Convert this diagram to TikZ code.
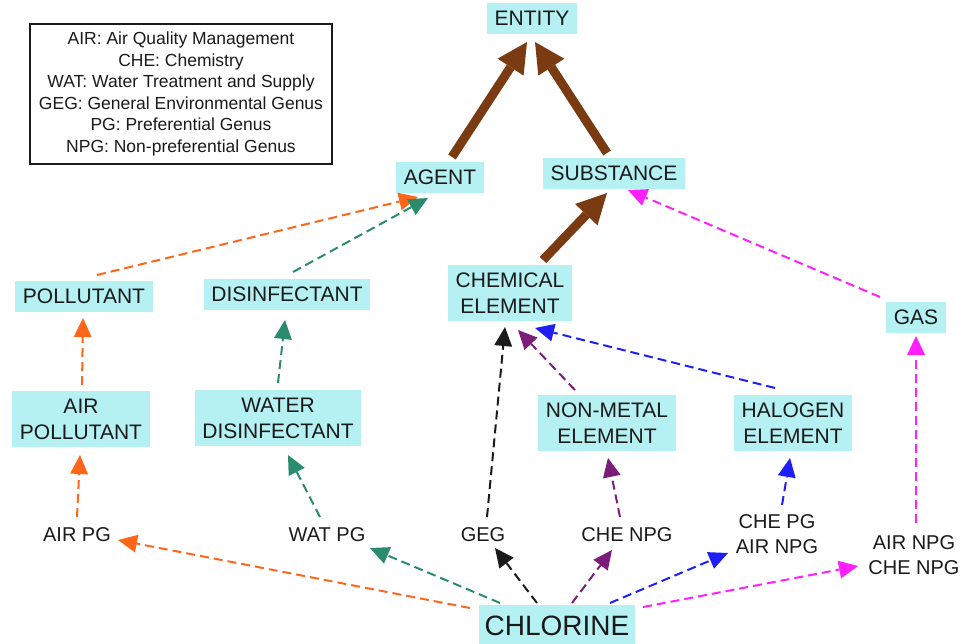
\documentclass[tikz,border=0pt]{standalone}
\usepackage{fontspec}
\setmainfont{Liberation Sans}
\usetikzlibrary{arrows.meta,calc}
\definecolor{boxfill}{HTML}{B5F0F2}
\definecolor{corange}{HTML}{FF661A}
\definecolor{cgreen}{HTML}{2A8C6C}
\definecolor{cpurple}{HTML}{7B1E7A}
\definecolor{cblue}{HTML}{1F1FF5}
\definecolor{cmagenta}{HTML}{FF1FFF}
\definecolor{cbrown}{HTML}{7A3B12}
\definecolor{ctext}{HTML}{1A1A1A}
\begin{document}
\begin{tikzpicture}[x=1pt,y=-1pt,
  onebox/.style={fill=boxfill, text=ctext, font=\fontsize{21}{26}\selectfont, inner xsep=7.5pt, inner ysep=8pt, text height=15pt, text depth=0pt},
  twobox/.style={fill=boxfill, text=ctext, font=\fontsize{21}{26}\selectfont, align=center, inner xsep=7.5pt, inner ysep=8pt},
  lbl/.style={text=ctext, font=\fontsize{20}{25}\selectfont, align=center, inner sep=2pt},
  legendbox/.style={draw=ctext, line width=1.2pt, text=ctext, font=\fontsize{17.5}{21.6}\selectfont, align=center, minimum width=302pt, minimum height=140pt, inner sep=0pt},
  dasharr/.style={line width=2pt, dash pattern=on 9pt off 5pt, -{Triangle[length=19pt,width=18pt,line width=0pt]}},
  thickarr/.style={line width=9pt, draw=cbrown, -{Triangle[length=30pt,width=31pt,line width=0pt]}},
]
\useasboundingbox (0,0) rectangle (965,643);

% legend
\node[legendbox] (legend) at (181,94) {AIR: Air Quality Management\\CHE: Chemistry\\WAT: Water Treatment and Supply\\GEG: General Environmental Genus\\PG: Preferential Genus\\NPG: Non-preferential Genus};

% boxed nodes
\node[onebox] (entity) at (532,18) {ENTITY};
\node[onebox] (agent) at (440,177) {AGENT};
\node[onebox] (substance) at (614,173) {SUBSTANCE};
\node[onebox] (pollutant) at (84,296) {POLLUTANT};
\node[onebox] (disinf) at (287,294) {DISINFECTANT};
\node[twobox] (chem) at (510,293) {CHEMICAL\\ELEMENT};
\node[onebox] (gas) at (916,317) {GAS};
\node[twobox] (airpol) at (81,419) {AIR\\POLLUTANT};
\node[twobox] (waterdis) at (278,418) {WATER\\DISINFECTANT};
\node[twobox] (nonmetal) at (607,423) {NON-METAL\\ELEMENT};
\node[twobox] (halogen) at (793,423) {HALOGEN\\ELEMENT};
\node[fill=boxfill, text=ctext, font=\fontsize{28}{32}\selectfont, inner xsep=6pt, inner ysep=10pt, text height=20pt, text depth=0pt] (chlorine) at (557,625) {CHLORINE};

% plain labels
\node[lbl] (airpg) at (77,535) {AIR PG};
\node[lbl] (watpg) at (327,535) {WAT PG};
\node[lbl] (geg) at (483,535) {GEG};
\node[lbl] (chenpg) at (627,535) {CHE NPG};
\node[lbl] (chepg) at (777,534) {CHE PG\\AIR NPG};
\node[lbl] (airnpg) at (914,555) {AIR NPG\\CHE NPG};

% brown arrows
\draw[thickarr] ($(agent)+(12,-20)$) -- ($(entity)+(-5,24)$);
\draw[thickarr] ($(substance)+(-7,-20)$) -- ($(entity)+(3,24)$);
\draw[thickarr] ($(chem)+(33,-33)$) -- ($(substance)+(-7,20)$);

% orange
\draw[dasharr, corange] ($(chlorine)+(-87,-17)$) -- ($(airpg)+(41,5)$);
\draw[dasharr, corange] ($(airpg)+(0,-18)$) -- ($(airpol)+(-1,36)$);
\draw[dasharr, corange] ($(airpol)+(1,-34)$) -- ($(pollutant)+(-1,22)$);
\draw[dasharr, corange] ($(pollutant)+(13,-21)$) -- ($(agent)+(-22,20)$);

% green
\draw[dasharr, cgreen] ($(chlorine)+(-57,-22)$) -- ($(watpg)+(43,13)$);
\draw[dasharr, cgreen] ($(watpg)+(-7,-18)$) -- ($(waterdis)+(10,37)$);
\draw[dasharr, cgreen] ($(waterdis)+(0,-35)$) -- ($(disinf)+(-2,26)$);
\draw[dasharr, cgreen] ($(disinf)+(6,-22)$) -- ($(agent)+(-12,21)$);

% black
\draw[dasharr, ctext] ($(chlorine)+(-20,-22)$) -- ($(geg)+(12,13)$);
\draw[dasharr, ctext] ($(geg)+(4,-18)$) -- ($(chem)+(-5,34)$);

% purple
\draw[dasharr, cpurple] ($(chlorine)+(15,-22)$) -- ($(chenpg)+(-15,15)$);
\draw[dasharr, cpurple] ($(chenpg)+(-7,-18)$) -- ($(nonmetal)+(1,35)$);
\draw[dasharr, cpurple] ($(nonmetal)+(-32,-33)$) -- ($(chem)+(8,37)$);

% blue
\draw[dasharr, cblue] ($(chlorine)+(53,-22)$) -- ($(chepg)+(-49,19)$);
\draw[dasharr, cblue] ($(chepg)+(5,-29)$) -- ($(halogen)+(-3,35)$);
\draw[dasharr, cblue] ($(halogen)+(-18,-35)$) -- ($(chem)+(25,35)$);

% magenta
\draw[dasharr, cmagenta] ($(chlorine)+(86,-18)$) -- ($(airnpg)+(-56,11)$);
\draw[dasharr, cmagenta] ($(airnpg)+(2,-32)$) -- ($(gas)+(0,19)$);
\draw[dasharr, cmagenta] ($(gas)+(-36,-20)$) -- ($(substance)+(14,17)$);
\end{tikzpicture}
\end{document}
